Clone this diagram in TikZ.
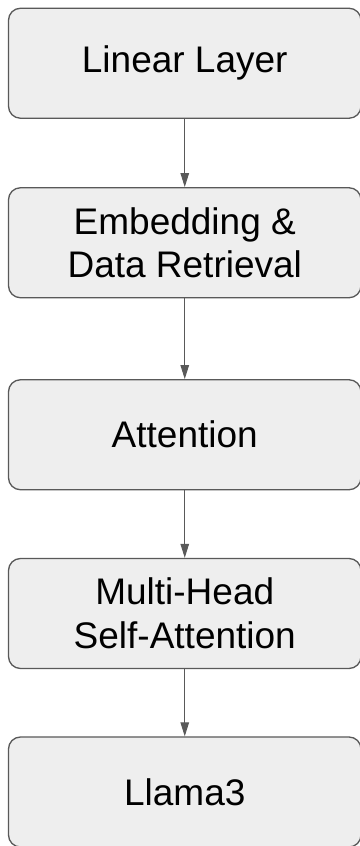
\documentclass[tikz,border=0pt]{standalone}
\usepackage{fontspec}
\setmainfont{Liberation Sans}
\usetikzlibrary{arrows.meta}
\definecolor{boxline}{HTML}{595959}
\definecolor{boxfill}{HTML}{EEEEEE}
\tikzset{
  stage/.style={rectangle, rounded corners=12pt, draw=boxline, line width=1.3pt,
    fill=boxfill, minimum width=352.5pt, minimum height=110pt, inner sep=0pt,
    align=center, font=\fontsize{37pt}{43.5pt}\selectfont, text=black},
  flow/.style={draw=boxline, line width=1pt,
    -{Triangle[length=14pt,width=8.5pt]}}
}
\begin{document}
\begin{tikzpicture}[x=1pt,y=1pt]
  \useasboundingbox (0,0) rectangle (359,846);
  \node[stage] (linear) at (184.75,782.75) {Linear Layer};
  \node[stage] (embed)  at (184.75,603.25) {Embedding \&\\Data Retrieval};
  \node[stage] (attn)   at (184.75,411.25) {Attention};
  \node[stage] (mhsa)   at (184.75,232.5)  {Multi-Head\\Self-Attention};
  \node[stage] (llama)  at (184.75,54)     {Llama3};
  \draw[flow] (linear.south) -- (embed.north);
  \draw[flow] (embed.south)  -- (attn.north);
  \draw[flow] (attn.south)   -- (mhsa.north);
  \draw[flow] (mhsa.south)   -- (llama.north);
\end{tikzpicture}
\end{document}
